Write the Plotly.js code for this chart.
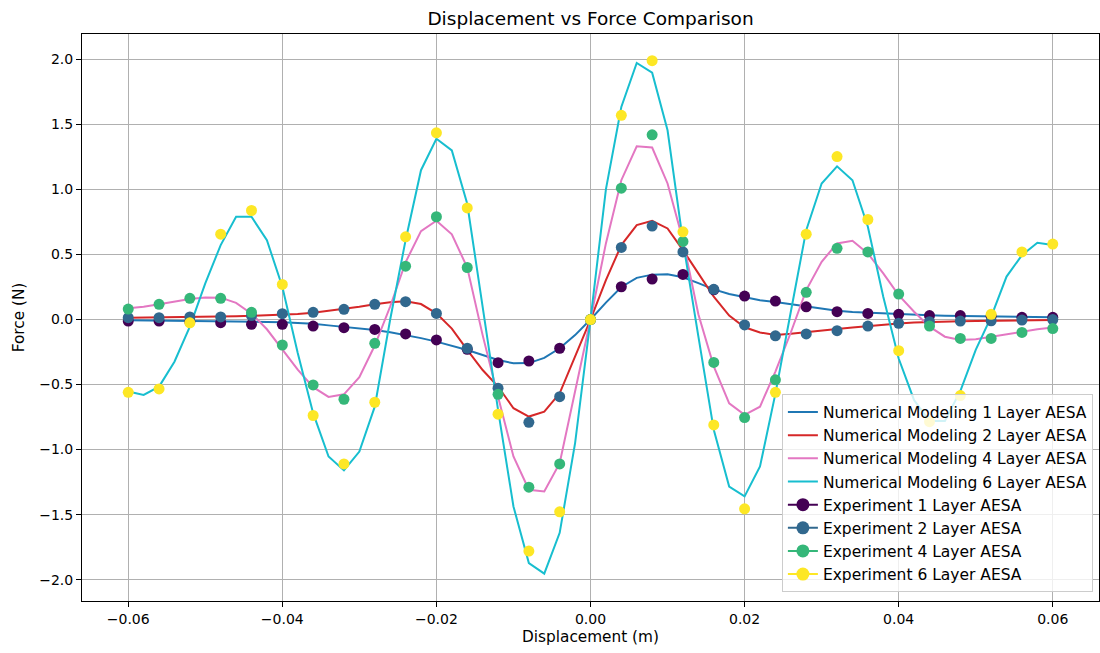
<!DOCTYPE html>
<html>
<head>
<meta charset="utf-8">
<script src="https://cdn.plot.ly/plotly-3.0.1.min.js"></script>
<style>html,body{margin:0;padding:0;background:#fff;}#chart{width:1100px;height:653px;}</style>
</head>
<body>
<div id="chart"></div>
<script>
// Displacement grid for the numerical models (m)
const xNum = [-0.060,-0.058,-0.056,-0.054,-0.052,-0.050,-0.048,-0.046,-0.044,-0.042,
  -0.040,-0.038,-0.036,-0.034,-0.032,-0.030,-0.028,-0.026,-0.024,-0.022,
  -0.020,-0.018,-0.016,-0.014,-0.012,-0.010,-0.008,-0.006,-0.004,-0.002,
  0.000,0.002,0.004,0.006,0.008,0.010,0.012,0.014,0.016,0.018,
  0.020,0.022,0.024,0.026,0.028,0.030,0.032,0.034,0.036,0.038,
  0.040,0.042,0.044,0.046,0.048,0.050,0.052,0.054,0.056,0.058,0.060];

const num1 = [-0.005,-0.006,-0.008,-0.009,-0.011,-0.012,-0.014,-0.016,-0.018,-0.019,
  -0.021,-0.026,-0.033,-0.045,-0.055,-0.066,-0.080,-0.098,-0.119,-0.143,
  -0.170,-0.200,-0.234,-0.273,-0.311,-0.337,-0.335,-0.295,-0.221,-0.120,
  0.000,0.130,0.250,0.320,0.345,0.348,0.325,0.280,0.232,0.196,
  0.170,0.148,0.135,0.119,0.098,0.082,0.068,0.058,0.052,0.046,
  0.042,0.036,0.032,0.029,0.027,0.024,0.022,0.021,0.020,0.018,0.017];

const num2 = [0.014,0.015,0.016,0.018,0.019,0.021,0.023,0.026,0.028,0.031,
  0.035,0.042,0.052,0.066,0.082,0.098,0.117,0.133,0.140,0.119,
  0.047,-0.070,-0.234,-0.388,-0.515,-0.682,-0.746,-0.708,-0.567,-0.285,
  0.000,0.303,0.572,0.726,0.759,0.700,0.534,0.355,0.175,0.030,
  -0.060,-0.100,-0.119,-0.110,-0.096,-0.084,-0.073,-0.061,-0.050,-0.039,
  -0.030,-0.023,-0.018,-0.015,-0.013,-0.011,-0.010,-0.008,-0.006,-0.004,-0.003];

const num4 = [0.086,0.098,0.118,0.138,0.158,0.170,0.168,0.128,0.045,-0.075,
  -0.230,-0.385,-0.520,-0.595,-0.575,-0.444,-0.200,0.100,0.440,0.680,
  0.760,0.655,0.400,-0.120,-0.593,-1.053,-1.309,-1.322,-1.104,-0.560,
  0.000,0.585,1.071,1.332,1.322,1.046,0.610,0.040,-0.360,-0.644,
  -0.733,-0.670,-0.400,-0.100,0.226,0.444,0.585,0.605,0.508,0.355,
  0.188,0.060,-0.055,-0.132,-0.157,-0.152,-0.132,-0.111,-0.094,-0.075,-0.062];

const num6 = [-0.554,-0.580,-0.516,-0.324,-0.055,0.278,0.572,0.790,0.790,0.610,
  0.252,-0.258,-0.720,-1.053,-1.160,-1.015,-0.670,0.000,0.610,1.148,
  1.390,1.300,0.890,0.100,-0.695,-1.437,-1.872,-1.954,-1.640,-0.950,
  0.000,1.000,1.634,1.972,1.898,1.455,0.600,-0.130,-0.848,-1.284,
  -1.360,-1.130,-0.570,0.060,0.687,1.046,1.178,1.071,0.713,0.175,
  -0.300,-0.620,-0.780,-0.780,-0.550,-0.234,0.020,0.330,0.495,0.590,0.572];

// Experimental displacement points (m)
const xExp = [-0.060,-0.056,-0.052,-0.048,-0.044,-0.040,-0.036,-0.032,-0.028,-0.024,
  -0.020,-0.016,-0.012,-0.008,-0.004,0.000,0.004,0.008,0.012,0.016,
  0.020,0.024,0.028,0.032,0.036,0.040,0.044,0.048,0.052,0.056,0.060];

const exp1 = [-0.012,-0.012,-0.018,-0.024,-0.037,-0.037,-0.050,-0.063,-0.076,-0.111,
  -0.157,-0.229,-0.332,-0.319,-0.221,0.000,0.252,0.311,0.347,0.228,
  0.180,0.142,0.098,0.060,0.047,0.040,0.030,0.030,0.025,0.017,0.017];

const exp2 = [0.014,0.014,0.020,0.020,0.030,0.045,0.055,0.078,0.117,0.137,
  0.047,-0.221,-0.528,-0.790,-0.593,0.000,0.554,0.718,0.520,0.232,
  -0.042,-0.125,-0.111,-0.086,-0.050,-0.029,-0.017,-0.012,-0.010,-0.004,0.000];

const exp4 = [0.080,0.117,0.163,0.163,0.055,-0.196,-0.503,-0.613,-0.183,0.410,
  0.790,0.400,-0.575,-1.289,-1.110,0.000,1.010,1.420,0.600,-0.330,
  -0.754,-0.464,0.209,0.547,0.520,0.196,-0.050,-0.145,-0.145,-0.099,-0.070];

const exp6 = [-0.560,-0.534,-0.025,0.656,0.838,0.270,-0.738,-1.110,-0.636,0.636,
  1.435,0.858,-0.728,-1.780,-1.478,0.000,1.570,1.990,0.674,-0.810,
  -1.455,-0.560,0.656,1.253,0.769,-0.240,-0.785,-0.585,0.040,0.520,0.580];

const numNames = ['Numerical Modeling 1 Layer AESA','Numerical Modeling 2 Layer AESA',
  'Numerical Modeling 4 Layer AESA','Numerical Modeling 6 Layer AESA'];
const expNames = ['Experiment 1 Layer AESA','Experiment 2 Layer AESA',
  'Experiment 4 Layer AESA','Experiment 6 Layer AESA'];
const numColors = ['#1f77b4','#d62728','#e377c2','#17becf'];
const expColors = ['#440154','#31688e','#35b779','#fde725'];
const numSeries = [num1, num2, num4, num6];
const expSeries = [exp1, exp2, exp4, exp6];

const traces = [];
numSeries.forEach((ys, i) => {
  traces.push({x: xNum, y: ys, type: 'scatter', mode: 'lines', name: numNames[i],
    line: {color: numColors[i], width: 2}, legendrank: i + 1});
});
expSeries.forEach((ys, i) => {
  traces.push({x: xExp, y: ys, type: 'scatter', mode: 'markers', name: expNames[i],
    marker: {color: expColors[i], size: 11}, showlegend: false});
});
// legend-only entries (line + marker handle, as in the original legend)
expSeries.forEach((ys, i) => {
  traces.push({x: [null], y: [null], type: 'scatter', mode: 'lines+markers', name: expNames[i],
    line: {color: expColors[i], width: 2}, marker: {color: expColors[i], size: 13},
    legendrank: i + 5, hoverinfo: 'skip'});
});

const fontFam = 'DejaVu Sans, sans-serif';
const layout = {
  width: 1100, height: 653,
  margin: {l: 82, r: 1, t: 34, b: 52, pad: 0},
  paper_bgcolor: '#ffffff', plot_bgcolor: '#ffffff',
  font: {family: fontFam, size: 14, color: '#000000'},
  title: {text: 'Displacement vs Force Comparison', font: {family: fontFam, size: 18.5, color: '#000'},
    x: 0.5, xref: 'paper', xanchor: 'center', y: 0.972, yref: 'container', yanchor: 'middle'},
  xaxis: {
    range: [-0.066, 0.066], tickvals: [-0.06,-0.04,-0.02,0,0.02,0.04,0.06], tickformat: '.2f',
    showgrid: true, gridcolor: '#b0b0b0', gridwidth: 1, zeroline: false,
    showline: true, linecolor: '#000', linewidth: 1, mirror: true,
    ticks: 'outside', ticklen: 5, tickwidth: 1, tickcolor: '#000',
    tickfont: {family: fontFam, size: 14, color: '#000'},
    title: {text: 'Displacement (m)', font: {family: fontFam, size: 15.3, color: '#000'}, standoff: 5}
  },
  yaxis: {
    range: [-2.164, 2.195], tickvals: [-2,-1.5,-1,-0.5,0,0.5,1,1.5,2], tickformat: '.1f',
    showgrid: true, gridcolor: '#b0b0b0', gridwidth: 1, zeroline: false,
    showline: true, linecolor: '#000', linewidth: 1, mirror: true,
    ticks: 'outside', ticklen: 5, tickwidth: 1, tickcolor: '#000',
    tickfont: {family: fontFam, size: 14, color: '#000'},
    title: {text: 'Force (N)', font: {family: fontFam, size: 15.3, color: '#000'}, standoff: 10}
  },
  legend: {x: 0.994, xanchor: 'right', y: 0.015, yanchor: 'bottom',
    bgcolor: 'rgba(255,255,255,0.8)', bordercolor: '#cccccc', borderwidth: 1,
    font: {family: fontFam, size: 15.5, color: '#000'}, traceorder: 'normal'},
  showlegend: true
};

Plotly.newPlot('chart', traces, layout, {staticPlot: true, displayModeBar: false});
</script>
</body>
</html>
